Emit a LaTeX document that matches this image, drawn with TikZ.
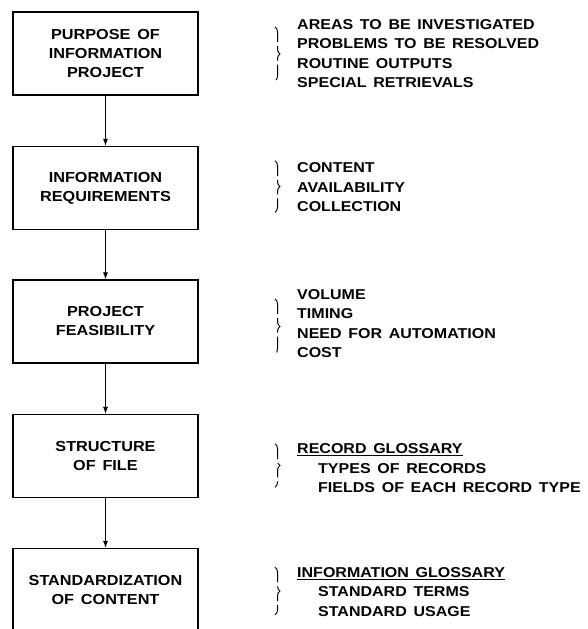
\documentclass[tikz,border=0pt]{standalone}
\usepackage{fontspec}
\setmainfont{Liberation Sans}
\newfontfamily\letterfont[FakeStretch=1.12, WordSpace=1.5]{Liberation Sans}
\usetikzlibrary{positioning, calc, arrows.meta, decorations.pathreplacing}

\tikzset{
  stage/.style={draw, line width=1.4pt, minimum width=185pt, minimum height=83pt,
    align=center, inner sep=0pt, font=\letterfont\bfseries\fontsize{14.5}{19}\selectfont},
  notes/.style={anchor=west, align=left, inner sep=0pt,
    font=\letterfont\bfseries\fontsize{14.3}{19.5}\selectfont},
  flow/.style={-{Latex[length=7pt,width=5pt]}, line width=0.8pt},
  bracket/.style={decorate, decoration={brace, amplitude=5pt}, line width=1pt,
    dash pattern=on 16pt off 4pt}
}

\begin{document}
\begin{tikzpicture}[x=1pt, y=-1pt]

    \useasboundingbox (0,0) rectangle (588,629);
    \clip (0,0) rectangle (588,629);

    % --- Stages ---
    \node[stage] (purpose) at (105.5,53.5) {PURPOSE OF\\INFORMATION\\PROJECT};
    \node[stage] (require) at (105.5,188) {INFORMATION\\REQUIREMENTS};
    \node[stage] (feasible) at (105.5,321.5) {PROJECT\\FEASIBILITY};
    \node[stage] (structure) at (105.5,456) {STRUCTURE\\OF FILE};
    \node[stage] (standard) at (105.5,590) {STANDARDIZATION\\OF CONTENT};

    % --- Flow between stages ---
    \draw[flow] (purpose) -- (require);
    \draw[flow] (require) -- (feasible);
    \draw[flow] (feasible) -- (structure);
    \draw[flow] (structure) -- (standard);

    % --- Notes to the right ---
    \node[notes] (purposenotes) at (297,53.5) {AREAS TO BE INVESTIGATED\\PROBLEMS TO BE RESOLVED\\ROUTINE OUTPUTS\\SPECIAL RETRIEVALS};
    \node[notes] (requirenotes) at (297,187.5) {CONTENT\\AVAILABILITY\\COLLECTION};
    \node[notes] (feasiblenotes) at (297,323.5) {VOLUME\\TIMING\\NEED FOR AUTOMATION\\COST};
    \node[notes] (structurenotes) at (297,468.5) {\underline{RECORD GLOSSARY}\\\hspace*{21pt}TYPES OF RECORDS\\\hspace*{21pt}FIELDS OF EACH RECORD TYPE};
    \node[notes] (standardnotes) at (297,592) {\underline{INFORMATION GLOSSARY}\\\hspace*{21pt}STANDARD TERMS\\\hspace*{21pt}STANDARD USAGE};

    % --- Braces ---
    \draw[bracket] ([xshift=-22pt,yshift=-8pt]purposenotes.north west) -- ([xshift=-22pt,yshift=7pt]purposenotes.south west);
    \draw[bracket] ([xshift=-22pt,yshift=2pt]requirenotes.north west) -- ([xshift=-22pt,yshift=0pt]requirenotes.south west);
    \draw[bracket] ([xshift=-22pt,yshift=-10pt]feasiblenotes.north west) -- ([xshift=-22pt,yshift=4pt]feasiblenotes.south west);
    \draw[bracket] ([xshift=-22pt,yshift=0pt]structurenotes.north west) -- ([xshift=-22pt,yshift=6pt]structurenotes.south west);
    \draw[bracket] ([xshift=-22pt,yshift=0pt]standardnotes.north west) -- ([xshift=-22pt,yshift=2pt]standardnotes.south west);

\end{tikzpicture}
\end{document}
